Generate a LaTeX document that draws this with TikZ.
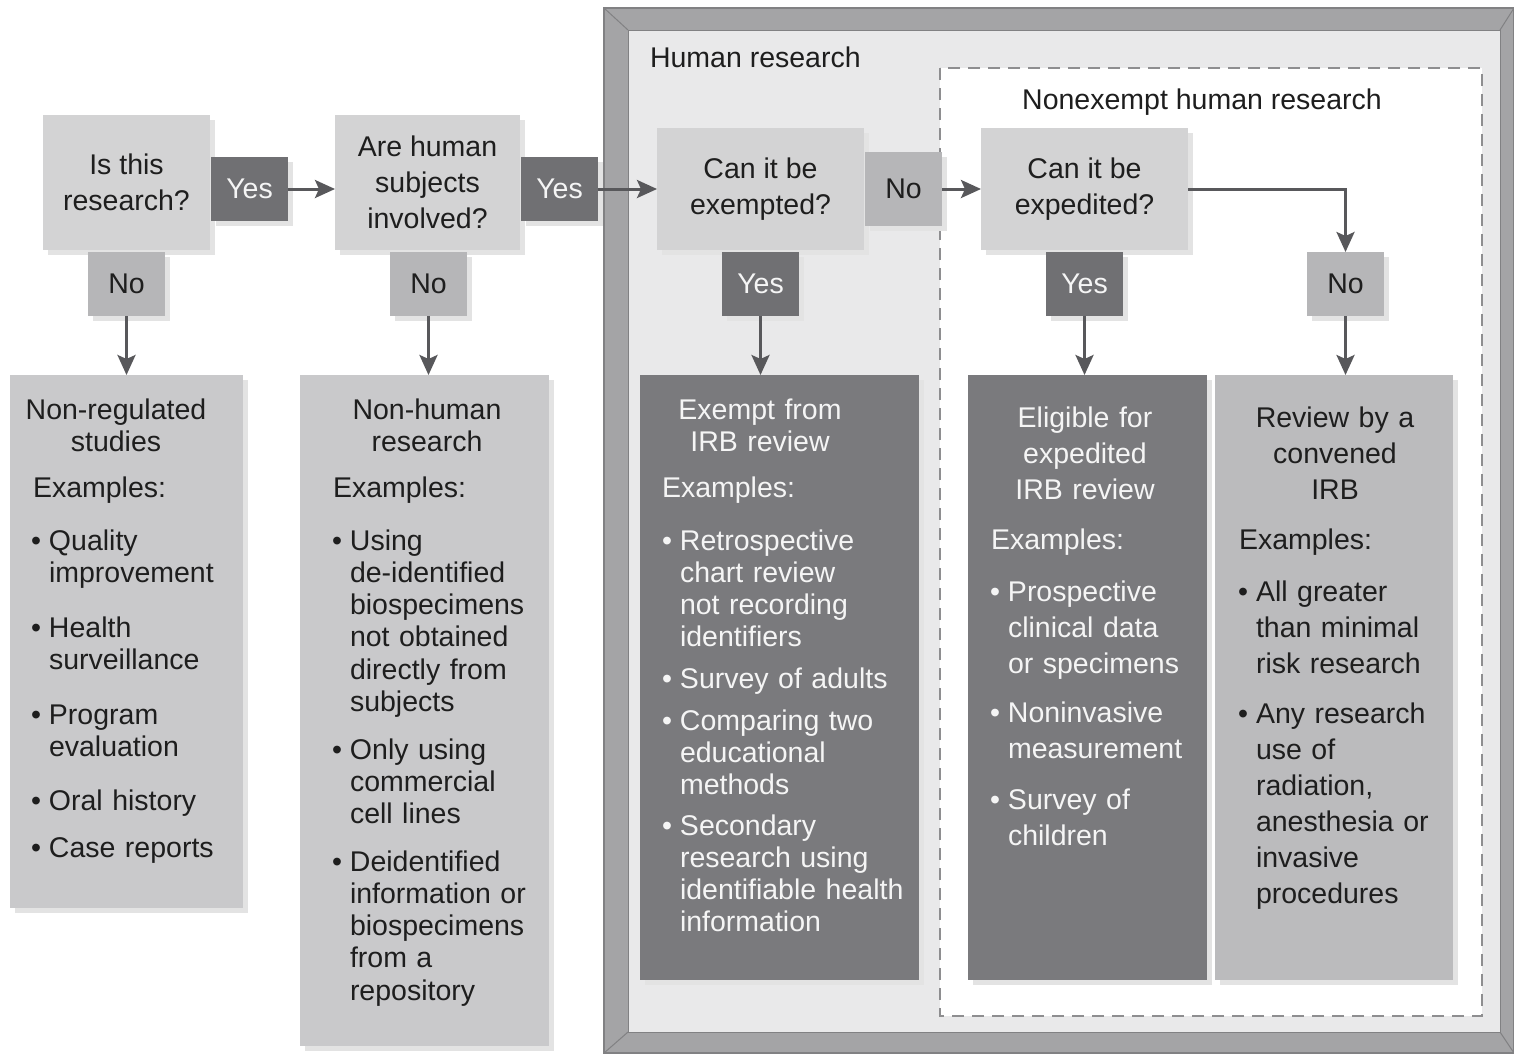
\documentclass[tikz,border=0pt]{standalone}
\usepackage{fontspec}
\setmainfont{Liberation Sans}
\usetikzlibrary{arrows.meta,shadows}
\definecolor{qfill}{HTML}{D3D3D4}
\definecolor{nofill}{HTML}{B6B6B8}
\definecolor{yesfill}{HTML}{707073}
\definecolor{resl}{HTML}{C9C9CB}
\definecolor{resd}{HTML}{7A7A7D}
\definecolor{resm}{HTML}{BBBBBD}
\definecolor{framec}{HTML}{A4A4A6}
\definecolor{framed}{HTML}{818183}
\definecolor{innerc}{HTML}{E9E9EA}
\definecolor{arrc}{HTML}{58585B}
\definecolor{txtd}{HTML}{1E1E1E}
\definecolor{txtw}{HTML}{F5F5F5}
\definecolor{dashc}{HTML}{8E8E90}
\newlength\bw \setlength\bw{18pt}
\newcommand\bl{\makebox[\bw][l]{\textbullet}}
\newcommand\ind{\hspace*{\bw}}
\begin{document}
\begin{tikzpicture}[x=1pt,y=-1pt,
  box/.style={rectangle, draw=none, inner sep=0pt, outer sep=0pt, anchor=north west,
    drop shadow={shadow xshift=5pt,shadow yshift=-5pt,fill=black!11,opacity=1}},
  qbox/.style={box, fill=qfill, text=txtd, align=center, font=\fontsize{28.5}{36}\selectfont},
  yesbox/.style={box, fill=yesfill, text=txtw, font=\fontsize{28.5}{34}\selectfont, minimum width=77pt, minimum height=64pt},
  nobox/.style={box, fill=nofill, text=txtd, font=\fontsize{28.5}{34}\selectfont, minimum width=77pt, minimum height=64pt},
  tx/.style={inner sep=0pt, outer sep=0pt, text=txtd, font=\fontsize{28.5}{32.3}\selectfont},
  txb/.style={tx, font=\fontsize{28.5}{36}\selectfont},
  wtext/.style={text=txtw},
  hd/.style={text width=280pt, align=center, anchor=base},
  it/.style={text width=280pt, align=left, anchor=base west},
  arr/.style={draw=arrc, line width=3pt, line join=miter, -{Stealth[length=20pt,width=18pt,inset=4pt]}}
]
\useasboundingbox (0,0) rectangle (1514,1053);
\fill[white] (0,0) rectangle (1514,1053);

% frame of human research
\fill[framec] (604,8) rectangle (1514,1053);
\fill[innerc] (628,30) rectangle (1500,1032);
\draw[framed, line width=1.2pt] (604,8) rectangle (1514,1053);
\draw[framed, line width=1pt] (628,30) rectangle (1500,1032);
\draw[framed, line width=1pt] (604,8) -- (628,30) (1514,8) -- (1500,30) (604,1053) -- (628,1032) (1514,1053) -- (1500,1032);
\node[tx, anchor=base west] (hr) at (650,67) {Human research};

% nonexempt dashed region
\draw[dashc, fill=white, line width=2pt, dash pattern=on 12pt off 8pt] (940,68) rectangle (1482,1016);
\node[tx, anchor=base] (nhr) at (1202,109) {Nonexempt human research};

% decision boxes
\node[qbox, minimum width=167pt, minimum height=135pt] (q1) at (43,115) {Is this\\research?};
\node[yesbox] (y1) at (211,157) {Yes};
\node[nobox] (n1) at (88,252) {No};

\node[qbox, minimum width=185pt, minimum height=135pt] (q2) at (335,115) {Are human\\subjects\\involved?};
\node[yesbox] (y2) at (521,157) {Yes};
\node[nobox] (n2) at (390,252) {No};

\node[qbox, minimum width=207pt, minimum height=122pt] (q3) at (657,128) {Can it be\\exempted?};
\node[nobox, minimum height=74pt] (n3) at (865,152) {No};
\node[yesbox] (y3) at (722,252) {Yes};

\node[qbox, minimum width=207pt, minimum height=122pt] (q4) at (981,128) {Can it be\\expedited?};
\node[yesbox] (y4) at (1046,252) {Yes};
\node[nobox] (n4) at (1307,252) {No};

% result boxes
\node[box, fill=resl, minimum width=233pt, minimum height=533pt] (ra) at (10,375) {};
\node[box, fill=resl, minimum width=249pt, minimum height=671pt] (rb) at (300,375) {};
\node[box, fill=resd, minimum width=279pt, minimum height=605pt] (rc) at (640,375) {};
\node[box, fill=resd, minimum width=239pt, minimum height=605pt] (rd) at (968,375) {};
\node[box, fill=resm, minimum width=238pt, minimum height=605pt] (re) at (1215,375) {};

% connectors
\draw[arr] (y1.east) -- (y1.east -| q2.west);
\draw[arr] (y2.east) -- (y2.east -| q3.west);
\draw[arr] (n3.east) -- (n3.east -| q4.west);
\draw[arr] (q4.east |- n3.east) -| (n4.north);
\draw[arr] (n1.south) -- (n1.south |- ra.north);
\draw[arr] (n2.south) -- (n2.south |- rb.north);
\draw[arr] (y3.south) -- (y3.south |- rc.north);
\draw[arr] (y4.south) -- (y4.south |- rd.north);
\draw[arr] (n4.south) -- (n4.south |- re.north);

% box A texts
\node[tx, hd] (ah) at (116,419) {Non-regulated\\studies};
\node[tx, anchor=base west] (ax) at (33,497) {Examples:};
\node[tx, it] (a1) at (31,550) {\bl Quality\\\ind improvement};
\node[tx, it] (a2) at (31,637) {\bl Health\\\ind surveillance};
\node[tx, it] (a3) at (31,724) {\bl Program\\\ind evaluation};
\node[tx, it] (a4) at (31,810) {\bl Oral history};
\node[tx, it] (a5) at (31,857) {\bl Case reports};

% box B texts
\node[tx, hd] (bh) at (427,419) {Non-human\\research};
\node[tx, anchor=base west] (bx) at (333,497) {Examples:};
\node[tx, it] (b1) at (332,550) {\bl Using\\\ind de-identified\\\ind biospecimens\\\ind not obtained\\\ind directly from\\\ind subjects};
\node[tx, it] (b2) at (332,759) {\bl Only using\\\ind commercial\\\ind cell lines};
\node[tx, it] (b3) at (332,871) {\bl Deidentified\\\ind information or\\\ind biospecimens\\\ind from a\\\ind repository};

% box C texts
\node[tx, wtext, hd] (ch) at (760,419) {Exempt from\\IRB review};
\node[tx, wtext, anchor=base west] (cx) at (662,497) {Examples:};
\node[tx, wtext, it] (c1) at (662,550) {\bl Retrospective\\\ind chart review\\\ind not recording\\\ind identifiers};
\node[tx, wtext, it] (c2) at (662,688) {\bl Survey of adults};
\node[tx, wtext, it] (c3) at (662,730) {\bl Comparing two\\\ind educational\\\ind methods};
\node[tx, wtext, it] (c4) at (662,835) {\bl Secondary\\\ind research using\\\ind identifiable health\\\ind information};

% box D texts
\node[txb, wtext, hd] (dh) at (1085,427) {Eligible for\\expedited\\IRB review};
\node[txb, wtext, anchor=base west] (dx) at (991,549) {Examples:};
\node[txb, wtext, it] (d1) at (990,601) {\bl Prospective\\\ind clinical data\\\ind or specimens};
\node[txb, wtext, it] (d2) at (990,722) {\bl Noninvasive\\\ind measurement};
\node[txb, wtext, it] (d3) at (990,809) {\bl Survey of\\\ind children};

% box E texts
\node[txb, hd] (eh) at (1335,427) {Review by a\\convened\\IRB};
\node[txb, anchor=base west] (ex) at (1239,549) {Examples:};
\node[txb, it] (e1) at (1238,601) {\bl All greater\\\ind than minimal\\\ind risk research};
\node[txb, it] (e2) at (1238,723) {\bl Any research\\\ind use of\\\ind radiation,\\\ind anesthesia or\\\ind invasive\\\ind procedures};
\end{tikzpicture}
\end{document}
